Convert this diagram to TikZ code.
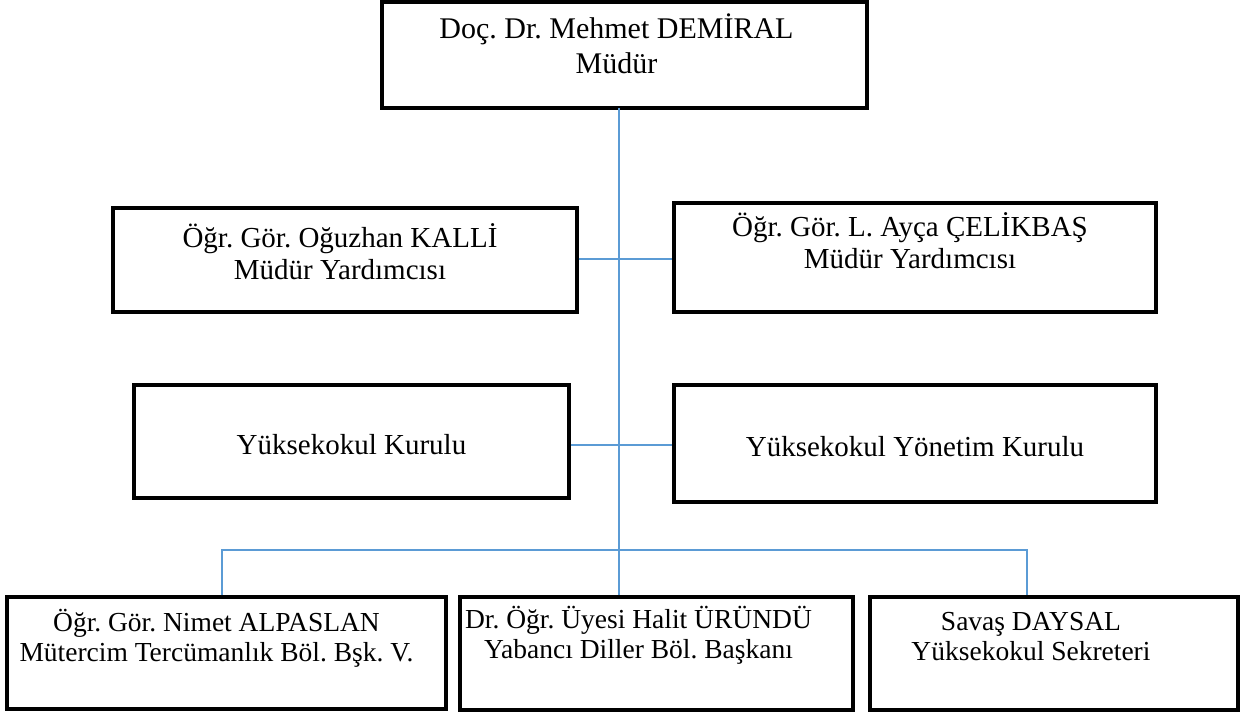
\documentclass[tikz,border=0pt]{standalone}
\usepackage{fontspec}
\setmainfont{Liberation Serif}
\definecolor{linkblue}{HTML}{5B9BD5}
\tikzset{
  unit/.style={draw=black, line width=3.2pt, inner sep=0pt},
  caption/.style={align=center, inner sep=0pt, font=\fontsize{29}{32}\selectfont},
  caption top/.style={caption, font=\fontsize{30}{35}\selectfont},
  caption low/.style={caption, font=\fontsize{27.5}{30}\selectfont},
  link/.style={draw=linkblue, line width=1.7pt},
}

\begin{document}
\frenchspacing
\begin{tikzpicture}[x=1pt,y=-1pt]
      \useasboundingbox (0,0) rectangle (1240,712);
      % nodes

      %top
      \node[unit, minimum width=485pt, minimum height=106pt, label={[caption top, xshift=-8pt, yshift=11pt]center:{Doç. Dr. Mehmet DEMİRAL\\Müdür}}] (mudur) at (624.5,55) {};

      %deputies
      \node[unit, minimum width=464pt, minimum height=104pt, label={[caption, xshift=-5pt, yshift=8pt]center:{Öğr. Gör. Oğuzhan KALLİ\\Müdür Yardımcısı}}] (yrd_left) at (345,260) {};
      \node[unit, minimum width=482pt, minimum height=109pt, label={[caption, xshift=-5pt, yshift=17pt]center:{Öğr. Gör. L. Ayça ÇELİKBAŞ\\Müdür Yardımcısı}}] (yrd_right) at (915,257.5) {};

      %boards
      \node[unit, minimum width=435pt, minimum height=113pt, label={[caption, yshift=-3pt]center:{Yüksekokul Kurulu}}] (kurul) at (351.5,441.5) {};
      \node[unit, minimum width=482pt, minimum height=117pt, label={[caption, yshift=-3pt]center:{Yüksekokul Yönetim Kurulu}}] (yonetim) at (915,443.5) {};

      %departments
      \node[unit, minimum width=439pt, minimum height=112pt, label={[caption low, xshift=-10pt, yshift=15pt]center:{Öğr. Gör. Nimet ALPASLAN\\Mütercim Tercümanlık Böl. Bşk. V.}}] (bolum_mt) at (226.5,653) {};
      \node[unit, minimum width=393pt, minimum height=113pt, label={[caption low, xshift=-18pt, yshift=18pt]center:{Dr. Öğr. Üyesi Halit ÜRÜNDÜ\\Yabancı Diller Böl. Başkanı}}] (bolum_yd) at (656.5,653.5) {};
      \node[unit, minimum width=368pt, minimum height=113pt, label={[caption low, xshift=-23pt, yshift=17pt]center:{Savaş DAYSAL\\Yüksekokul Sekreteri}}] (sekreter) at (1054,653.5) {};

      % junctions
      \coordinate (trunk) at (619,108);
      \coordinate (mid_yrd) at (619,259);
      \coordinate (mid_kurul) at (619,445);
      \coordinate (bus_left) at (222,550);
      \coordinate (bus_right) at (1027,550);

      % edges
      \draw[link] (trunk) -- (trunk |- bolum_yd.north);
      \draw[link] (yrd_left.east |- mid_yrd) -- (yrd_right.west |- mid_yrd);
      \draw[link] (kurul.east |- mid_kurul) -- (yonetim.west |- mid_kurul);
      \draw[link] (bus_left |- bolum_mt.north) -- (bus_left) -- (bus_right) -- (bus_right |- sekreter.north);

\end{tikzpicture}
\end{document}
